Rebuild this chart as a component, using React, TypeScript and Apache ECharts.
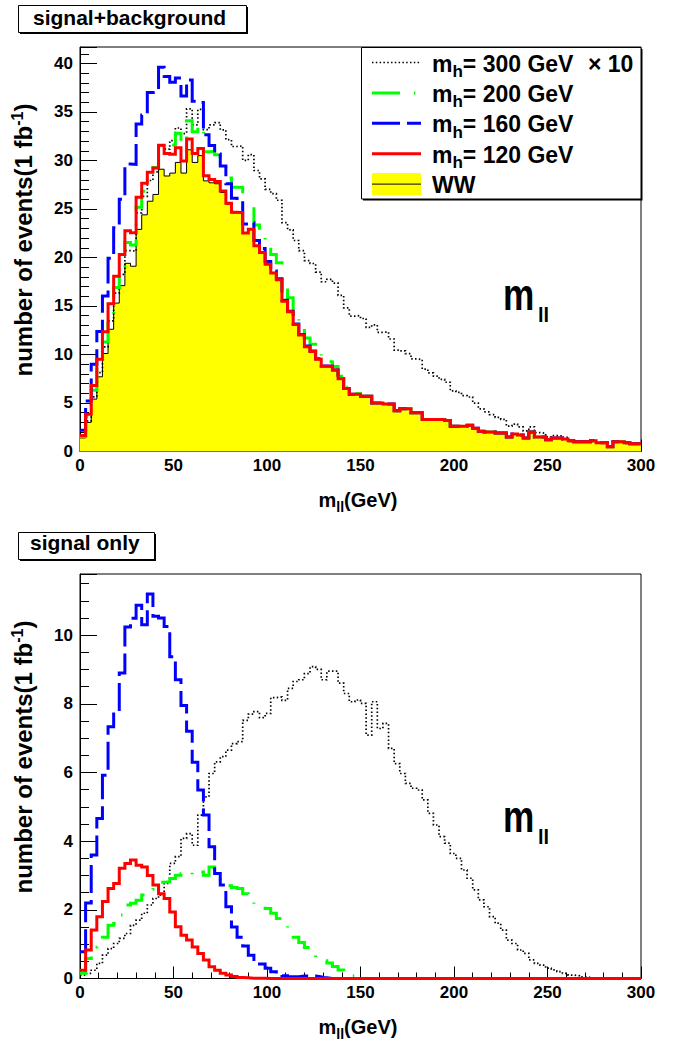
import { useEffect, useRef } from "react";
import * as echarts from "echarts";

// Binning of every histogram: 100 bins of 3 GeV between 0 and 300 GeV
const BIN_WIDTH = 3;
const X_MIN = 0;
const X_MAX = 300;
const X_TICK = 50;

// WW continuum, events per bin for 1 fb^-1
const wwBackground = [
  1.4, 3.0, 5.4, 7.7, 10.1, 12.6, 15.3, 17.1, 19.4, 19.1,
  22.9, 24.4, 25.8, 26.5, 29.1, 28.4, 28.7, 29.8, 28.7, 31.1,
  29.8, 30.5, 27.9, 27.7, 27.6, 26.7, 25.5, 24.6, 24.6, 22.5,
  22.9, 21.2, 20.5, 19.3, 18.4, 17.7, 15.5, 14.4, 13.1, 12.0,
  10.8, 10.3, 9.5, 8.8, 8.8, 8.4, 7.5, 6.5, 5.9, 5.9,
  5.7, 5.7, 5.0, 5.0, 4.9, 4.9, 4.2, 4.4, 4.4, 4.0,
  4.0, 3.3, 3.3, 3.3, 3.3, 3.2, 2.6, 2.6, 2.6, 2.7,
  2.4, 2.1, 2.0, 2.0, 1.9, 1.9, 1.5, 1.8, 1.7, 1.4,
  2.0, 1.5, 1.5, 1.2, 1.4, 1.4, 1.3, 1.1, 1.0, 1.0,
  1.0, 1.1, 0.9, 0.9, 0.5, 1.0, 1.0, 0.9, 0.8, 0.8,
];

// Higgs signal for m_h = 120 GeV
const signal120 = [
  0.24, 0.83, 1.41, 1.8, 2.24, 2.62, 2.77, 3.21, 3.35, 3.45,
  3.3, 3.25, 3.0, 2.72, 2.47, 2.33, 1.94, 1.51, 1.26, 1.12,
  0.92, 0.73, 0.54, 0.34, 0.24, 0.15, 0.1, 0.06, 0.03, 0.02,
  0.01, 0.01, 0.01, 0, 0, 0, 0, 0, 0, 0,
  0, 0, 0, 0, 0, 0, 0, 0, 0, 0,
  0, 0, 0, 0, 0, 0, 0, 0, 0, 0,
  0, 0, 0, 0, 0, 0, 0, 0, 0, 0,
  0, 0, 0, 0, 0, 0, 0, 0, 0, 0,
  0, 0, 0, 0, 0, 0, 0, 0, 0, 0,
  0, 0, 0, 0, 0, 0, 0, 0, 0, 0,
];

// Higgs signal for m_h = 160 GeV
const signal160 = [
  0.78, 2.2, 3.6, 4.66, 5.92, 7.33, 7.77, 8.9, 10.24, 10.49,
  10.87, 10.3, 11.2, 10.55, 10.5, 10.25, 9.37, 8.7, 7.95, 7.2,
  6.3, 5.49, 4.76, 3.84, 3.06, 2.72, 2.09, 1.5, 1.2, 0.95,
  0.68, 0.55, 0.42, 0.3, 0.2, 0.12, 0.08, 0.05, 0.05, 0.07,
  0.07, 0.07, 0.05, 0.02, 0, 0, 0, 0, 0, 0,
  0, 0, 0, 0, 0, 0, 0, 0, 0, 0,
  0, 0, 0, 0, 0, 0, 0, 0, 0, 0,
  0, 0, 0, 0, 0, 0, 0, 0, 0, 0,
  0, 0, 0, 0, 0, 0, 0, 0, 0, 0,
  0, 0, 0, 0, 0, 0, 0, 0, 0, 0,
];

// Higgs signal for m_h = 200 GeV
const signal200 = [
  0.15, 0.58, 0.92, 1.12, 1.2, 1.55, 1.6, 1.85, 2.14, 2.19,
  2.28, 2.43, 2.6, 2.77, 2.8, 2.82, 2.91, 3.01, 3.05, 3.0,
  3.16, 3.1, 3.01, 3.25, 3.0, 2.77, 2.7, 2.65, 2.62, 2.47,
  2.28, 2.14, 2.1, 2.04, 1.9, 1.75, 1.6, 1.45, 1.2, 1.05,
  0.9, 0.75, 0.62, 0.52, 0.45, 0.35, 0.25, 0.15, 0.08, 0.05,
  0, 0, 0, 0, 0, 0, 0, 0, 0, 0,
  0, 0, 0, 0, 0, 0, 0, 0, 0, 0,
  0, 0, 0, 0, 0, 0, 0, 0, 0, 0,
  0, 0, 0, 0, 0, 0, 0, 0, 0, 0,
  0, 0, 0, 0, 0, 0, 0, 0, 0, 0,
];

// Higgs signal for m_h = 300 GeV, scaled by 10
const signal300x10 = [
  0.1, 0.15, 0.24, 0.44, 0.68, 0.87, 1.02, 1.17, 1.31, 1.55,
  1.7, 1.9, 2.14, 2.33, 2.43, 2.77, 3.35, 3.55, 4.08, 4.22,
  3.88, 4.76, 5.29, 5.97, 6.31, 6.46, 6.65, 6.84, 6.9, 7.52,
  7.7, 7.77, 7.6, 7.72, 8.18, 8.2, 8.1, 8.45, 8.65, 8.7,
  8.88, 9.08, 9.0, 8.7, 8.95, 8.95, 8.6, 8.3, 8.06, 8.11,
  8.01, 7.09, 8.06, 7.28, 7.43, 6.7, 6.26, 5.97, 5.68, 5.54,
  5.49, 5.2, 4.81, 4.47, 4.13, 3.94, 3.64, 3.5, 3.16, 2.92,
  2.58, 2.29, 2.09, 1.8, 1.61, 1.41, 1.12, 1.02, 0.83, 0.73,
  0.54, 0.44, 0.39, 0.3, 0.25, 0.2, 0.15, 0.1, 0.08, 0.05,
  0.03, 0, 0, 0, 0, 0, 0, 0, 0, 0,
];

// Vertical ranges and tick spacing of the two pads
const TOP_Y_MAX = 41.7;
const TOP_Y_MAJOR = 5;
const TOP_Y_MINOR = 1;
const BOT_Y_MAX = 11.78;
const BOT_Y_MAJOR = 2;
const BOT_Y_MINOR = 0.5;

// Pad titles and legend labels
const padTitles = ["signal+background", "signal only"];
const legendMasses = ["300", "200", "160", "120"];

// ROOT-like line styles
const DOTTED = [1.5, 2.3];
const DASH_DOT = [28, 14, 1.4, 14];
const LONG_DASH = [28, 7];
const DOT_WIDTH = 1.7;

const FONT = "'Liberation Sans', Arial, Helvetica, sans-serif";
const CENTRAL = 0.3465; // offset of the 'central' baseline above the alphabetic one, in em

let measureCtx: CanvasRenderingContext2D | null = null;
function textWidth(text: string, size: number): number {
  if (!measureCtx) measureCtx = document.createElement("canvas").getContext("2d");
  if (!measureCtx) return text.length * size * 0.6;
  measureCtx.font = `bold ${size}px 'Liberation Sans'`;
  return measureCtx.measureText(text).width;
}

type Piece = { text: string; size: number; dy?: number };

function textEl(text: string, size: number, x: number, baseline: number, extra: any = {}) {
  return {
    type: "text",
    x,
    y: baseline - CENTRAL * size,
    z: 100,
    silent: true,
    style: {
      text,
      fontSize: size,
      fontWeight: "bold",
      fontFamily: FONT,
      fill: "#000",
      align: "left",
      verticalAlign: "middle",
      textAlign: "left",
      textVerticalAlign: "middle",
    },
    ...extra,
  };
}

function runWidth(pieces: Piece[]) {
  return pieces.reduce((s, p) => s + textWidth(p.text, p.size), 0);
}

function runEls(pieces: Piece[], x0: number, baseline: number) {
  const els: any[] = [];
  let x = x0;
  for (const p of pieces) {
    els.push(textEl(p.text, p.size, x, baseline + (p.dy ?? 0)));
    x += textWidth(p.text, p.size);
  }
  return els;
}

function stepData(values: number[]) {
  const pts = values.map((v, i) => [X_MIN + i * BIN_WIDTH, v]);
  pts.push([X_MIN + values.length * BIN_WIDTH, values[values.length - 1]]);
  return pts;
}

function stacked(a: number[], b: number[]) {
  return a.map((v, i) => Math.round((v + b[i]) * 1000) / 1000);
}

function histLine(data: number[], gridIdx: number, color: string, width: number, dash: any, z: number, fill?: string) {
  return {
    type: "line",
    xAxisIndex: gridIdx,
    yAxisIndex: gridIdx * 2,
    data: stepData(data),
    step: "end",
    symbol: "none",
    showSymbol: false,
    silent: true,
    z,
    lineStyle: { color, width, type: dash, cap: "butt", join: "miter" },
    areaStyle: fill ? { color: fill, opacity: 1 } : undefined,
  };
}

function xAxisCfg(gridIndex: number) {
  return {
    type: "value",
    gridIndex,
    min: X_MIN,
    max: X_MAX,
    interval: X_TICK,
    axisLine: { show: true, onZero: false, lineStyle: { color: "#000", width: 1 } },
    axisTick: { show: true, inside: true, length: 12, lineStyle: { color: "#000", width: 1 } },
    minorTick: { show: true, splitNumber: 5, length: 6, lineStyle: { color: "#000", width: 1 } },
    splitLine: { show: false },
    minorSplitLine: { show: false },
    axisLabel: { color: "#000", fontSize: 17, fontWeight: "bold", fontFamily: FONT, margin: 5 },
  };
}

function yMajor(gridIndex: number, max: number, step: number) {
  return {
    type: "value",
    gridIndex,
    position: "left",
    min: 0,
    max,
    interval: step,
    axisLine: { show: true, lineStyle: { color: "#000", width: 1 } },
    axisTick: { show: true, inside: true, length: 17, lineStyle: { color: "#000", width: 1 } },
    splitLine: { show: false },
    axisLabel: {
      color: "#000",
      fontSize: 17,
      fontWeight: "bold",
      fontFamily: FONT,
      margin: 7,
      formatter: (v: number) => (Math.abs(v / step - Math.round(v / step)) < 1e-6 ? String(Math.round(v)) : ""),
    },
  };
}

function yMinor(gridIndex: number, max: number, step: number) {
  return {
    type: "value",
    gridIndex,
    position: "left",
    offset: 0,
    min: 0,
    max,
    interval: step,
    axisLine: { show: false },
    axisTick: { show: true, inside: true, length: 9, lineStyle: { color: "#000", width: 1 } },
    splitLine: { show: false },
    axisLabel: { show: false },
  };
}

function boxWithShadow(x: number, y: number, w: number, h: number) {
  return [
    { type: "rect", z: 99, silent: true, shape: { x: x + 1.5, y: y + 1.5, width: w, height: h }, style: { fill: "#000" } },
    { type: "rect", z: 99, silent: true, shape: { x, y, width: w, height: h }, style: { fill: "#fff", stroke: "#000", lineWidth: 1 } },
  ];
}

function xTitle(baseline: number) {
  const pieces: Piece[] = [
    { text: "m", size: 20 },
    { text: "ll", size: 14, dy: 5 },
    { text: "(GeV)", size: 20 },
  ];
  const w = runWidth(pieces);
  return runEls(pieces, 358 - w / 2, baseline);
}

function yTitle(centerY: number, baselineX: number) {
  const pieces: Piece[] = [
    { text: "number of events(1 fb", size: 24 },
    { text: "-1", size: 16, dy: -9 },
    { text: ")", size: 24 },
  ];
  const w = runWidth(pieces);
  return {
    type: "group",
    x: baselineX,
    y: centerY + w / 2,
    rotation: Math.PI / 2,
    children: runEls(pieces, 0, 0),
  };
}

function mllLabel(baseline: number) {
  return [
    textEl("m", 44, 503, baseline, { scaleX: 0.8 }),
    textEl("ll", 20, 538, baseline + 12),
  ];
}

function legend() {
  const els: any[] = [...boxWithShadow(361.5, 47.5, 279.5, 151.5)];
  const rows = [62.5, 92.9, 123.3, 153.7, 184.1];
  const styles = [
    { color: "#000000", width: DOT_WIDTH, dash: DOTTED },
    { color: "#00ff00", width: 3, dash: DASH_DOT },
    { color: "#0000ff", width: 3, dash: LONG_DASH },
    { color: "#ff0000", width: 3, dash: "solid" },
  ];
  legendMasses.forEach((mass, i) => {
    const y = rows[i];
    const st = styles[i];
    els.push({
      type: "line",
      z: 100,
      silent: true,
      shape: { x1: 372, y1: y, x2: 421, y2: y },
      style: { stroke: st.color, lineWidth: st.width, lineDash: st.dash === "solid" ? null : st.dash, lineCap: "butt" },
    });
    const base = y + 1 + CENTRAL * 23;
    els.push(
      ...runEls(
        [
          { text: "m", size: 23 },
          { text: "h", size: 17, dy: 6 },
          { text: `= ${mass} GeV`, size: 23 },
        ],
        432,
        base
      )
    );
    if (i === 0) els.push(textEl("\u00d7 10", 23, 588, base));
  });
  const wy = rows[4];
  els.push({ type: "rect", z: 100, silent: true, shape: { x: 372, y: wy - 11, width: 49, height: 22 }, style: { fill: "#ffff00" } });
  els.push({ type: "line", z: 100, silent: true, shape: { x1: 372, y1: wy, x2: 421, y2: wy }, style: { stroke: "#000", lineWidth: 1 } });
  els.push(textEl("WW", 23, 432, wy + 1 + CENTRAL * 23));
  return els;
}

function buildOption() {
  const top300 = stacked(wwBackground, signal300x10);
  const top200 = stacked(wwBackground, signal200);
  const top160 = stacked(wwBackground, signal160);
  const top120 = stacked(wwBackground, signal120);

  const graphics: any[] = [
    ...boxWithShadow(18.5, 5.5, 228, 27),
    textEl(padTitles[0], 21, 33, 25),
    ...boxWithShadow(18.5, 532.5, 136, 27),
    textEl(padTitles[1], 21, 30, 550),
    ...legend(),
    ...xTitle(507),
    ...xTitle(1034),
    yTitle(240, 32),
    yTitle(757, 32),
    ...mllLabel(310),
    ...mllLabel(832),
  ];

  return {
    animation: false,
    backgroundColor: "#ffffff",
    grid: [
      { left: 80, top: 47, width: 561, height: 404.5, show: true, borderColor: "#000", borderWidth: 1, backgroundColor: "rgba(0,0,0,0)", containLabel: false, outerBoundsMode: "none" },
      { left: 80, top: 574, width: 561, height: 404.5, show: true, borderColor: "#000", borderWidth: 1, backgroundColor: "rgba(0,0,0,0)", containLabel: false, outerBoundsMode: "none" },
    ],
    xAxis: [xAxisCfg(0), xAxisCfg(1)],
    yAxis: [
      yMajor(0, TOP_Y_MAX, TOP_Y_MAJOR),
      yMinor(0, TOP_Y_MAX, TOP_Y_MINOR),
      yMajor(1, BOT_Y_MAX, BOT_Y_MAJOR),
      yMinor(1, BOT_Y_MAX, BOT_Y_MINOR),
    ],
    series: [
      histLine(wwBackground, 0, "#000000", 1, "solid", 2, "#ffff00"),
      histLine(top300, 0, "#000000", DOT_WIDTH, DOTTED, 3),
      histLine(top200, 0, "#00ff00", 3, DASH_DOT, 4),
      histLine(top160, 0, "#0000ff", 3, LONG_DASH, 5),
      histLine(top120, 0, "#ff0000", 3, "solid", 6),
      histLine(signal300x10, 1, "#000000", DOT_WIDTH, DOTTED, 3),
      histLine(signal200, 1, "#00ff00", 3, DASH_DOT, 4),
      histLine(signal160, 1, "#0000ff", 3, LONG_DASH, 5),
      histLine(signal120, 1, "#ff0000", 3, "solid", 6),
    ],
    graphic: { elements: graphics },
  };
}

export default function App() {
  const ref = useRef<HTMLDivElement>(null);
  useEffect(() => {
    if (!ref.current) return;
    const chart = echarts.init(ref.current, null, { renderer: "svg" });
    chart.setOption(buildOption() as any);
    return () => chart.dispose();
  }, []);
  return (
    <div
      ref={ref}
      style={{ position: "fixed", left: 0, top: 0, width: 676, height: 1044, background: "#ffffff" }}
    />
  );
}
